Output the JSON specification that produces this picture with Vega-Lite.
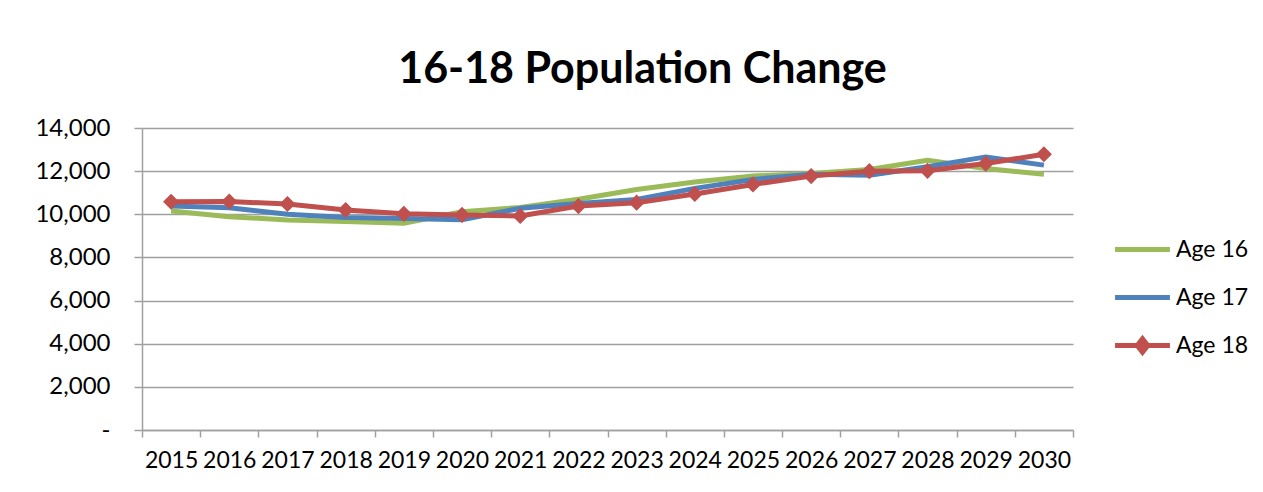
{
  "$schema": "https://vega.github.io/schema/vega-lite/v6.json",
  "width": 931,
  "height": 302,
  "autosize": {"type": "none"},
  "padding": {"left": 142, "top": 128, "right": 190, "bottom": 62},
  "background": "white",
  "config": {"view": {"stroke": null}, "font": "Lato"},
  "title": {"text": "16-18 Population Change", "font": "Lato", "fontSize": 43, "fontWeight": "bold", "color": "black", "anchor": "middle", "frame": "group", "dx": 35, "offset": -10, "baseline": "alphabetic"},
  "data": {"values": [
    {"Year": "2015", "Series": "Age 16", "Value": 10150},
    {"Year": "2016", "Series": "Age 16", "Value": 9890},
    {"Year": "2017", "Series": "Age 16", "Value": 9740},
    {"Year": "2018", "Series": "Age 16", "Value": 9660},
    {"Year": "2019", "Series": "Age 16", "Value": 9590},
    {"Year": "2020", "Series": "Age 16", "Value": 10120},
    {"Year": "2021", "Series": "Age 16", "Value": 10320},
    {"Year": "2022", "Series": "Age 16", "Value": 10700},
    {"Year": "2023", "Series": "Age 16", "Value": 11150},
    {"Year": "2024", "Series": "Age 16", "Value": 11500},
    {"Year": "2025", "Series": "Age 16", "Value": 11770},
    {"Year": "2026", "Series": "Age 16", "Value": 11890},
    {"Year": "2027", "Series": "Age 16", "Value": 12075},
    {"Year": "2028", "Series": "Age 16", "Value": 12500},
    {"Year": "2029", "Series": "Age 16", "Value": 12120},
    {"Year": "2030", "Series": "Age 16", "Value": 11860},
    {"Year": "2015", "Series": "Age 17", "Value": 10380},
    {"Year": "2016", "Series": "Age 17", "Value": 10300},
    {"Year": "2017", "Series": "Age 17", "Value": 10000},
    {"Year": "2018", "Series": "Age 17", "Value": 9850},
    {"Year": "2019", "Series": "Age 17", "Value": 9800},
    {"Year": "2020", "Series": "Age 17", "Value": 9750},
    {"Year": "2021", "Series": "Age 17", "Value": 10280},
    {"Year": "2022", "Series": "Age 17", "Value": 10500},
    {"Year": "2023", "Series": "Age 17", "Value": 10690},
    {"Year": "2024", "Series": "Age 17", "Value": 11200},
    {"Year": "2025", "Series": "Age 17", "Value": 11615},
    {"Year": "2026", "Series": "Age 17", "Value": 11860},
    {"Year": "2027", "Series": "Age 17", "Value": 11815},
    {"Year": "2028", "Series": "Age 17", "Value": 12200},
    {"Year": "2029", "Series": "Age 17", "Value": 12660},
    {"Year": "2030", "Series": "Age 17", "Value": 12280},
    {"Year": "2015", "Series": "Age 18", "Value": 10580},
    {"Year": "2016", "Series": "Age 18", "Value": 10590},
    {"Year": "2017", "Series": "Age 18", "Value": 10475},
    {"Year": "2018", "Series": "Age 18", "Value": 10200},
    {"Year": "2019", "Series": "Age 18", "Value": 10020},
    {"Year": "2020", "Series": "Age 18", "Value": 9970},
    {"Year": "2021", "Series": "Age 18", "Value": 9920},
    {"Year": "2022", "Series": "Age 18", "Value": 10380},
    {"Year": "2023", "Series": "Age 18", "Value": 10540},
    {"Year": "2024", "Series": "Age 18", "Value": 10940},
    {"Year": "2025", "Series": "Age 18", "Value": 11385},
    {"Year": "2026", "Series": "Age 18", "Value": 11770},
    {"Year": "2027", "Series": "Age 18", "Value": 12000},
    {"Year": "2028", "Series": "Age 18", "Value": 12015},
    {"Year": "2029", "Series": "Age 18", "Value": 12350},
    {"Year": "2030", "Series": "Age 18", "Value": 12785}
  ]},
  "encoding": {
    "x": {
      "field": "Year", "type": "ordinal",
      "scale": {"type": "band", "paddingInner": 0, "paddingOuter": 0},
      "axis": {"title": null, "labelAngle": 0, "tickBand": "extent", "labelFont": "Lato", "labelFontSize": 23, "labelColor": "black", "tickColor": "#a0a0a0", "domainColor": "#a0a0a0", "tickSize": 7, "tickWidth": 1.5, "domainWidth": 1.5, "labelPadding": 12, "grid": false}
    },
    "y": {
      "field": "Value", "type": "quantitative",
      "scale": {"domain": [0, 14000], "nice": false, "zero": true},
      "axis": {"title": null, "values": [0, 2000, 4000, 6000, 8000, 10000, 12000, 14000], "labelExpr": "datum.value == 0 ? '-' : format(datum.value, ',')", "labelFont": "Lato", "labelFontSize": 24, "labelColor": "black", "grid": true, "gridColor": "#a0a0a0", "gridWidth": 1.5, "tickColor": "#a0a0a0", "tickWidth": 1.5, "tickSize": 8, "domainColor": "#a0a0a0", "domainWidth": 1.5, "labelPadding": 24}
    }
  },
  "layer": [
    {
      "mark": {"type": "line", "strokeWidth": 5},
      "encoding": {
        "color": {
          "field": "Series", "type": "nominal",
          "scale": {"domain": ["Age 16", "Age 17", "Age 18"], "range": ["#9BBB59", "#4F81BD", "#C0504D"]},
          "legend": {
            "title": null, "orient": "none", "legendX": 983, "legendY": 104, "padding": 0,
            "symbolSize": 900, "symbolStrokeWidth": 5, "labelFont": "Lato", "labelFontSize": 23, "labelColor": "black", "labelOffset": 16, "rowPadding": 18,
            "encode": {"symbols": {"update": {
              "shape": {"signal": "datum.value == 'Age 18' ? 'M-1.83,0H1.83M-0.35,0L0,-0.45L0.35,0L0,0.45Z' : 'M-1.83,0H1.83'"},
              "fill": {"signal": "scale('color', datum.value)"},
              "stroke": {"signal": "scale('color', datum.value)"},
              "strokeWidth": {"value": 5}
            }}}
          }
        }
      }
    },
    {
      "transform": [{"filter": "datum.Series == 'Age 18'"}],
      "mark": {"type": "point", "shape": "diamond", "filled": true, "size": 260, "color": "#C0504D", "opacity": 1}
    }
  ]
}
